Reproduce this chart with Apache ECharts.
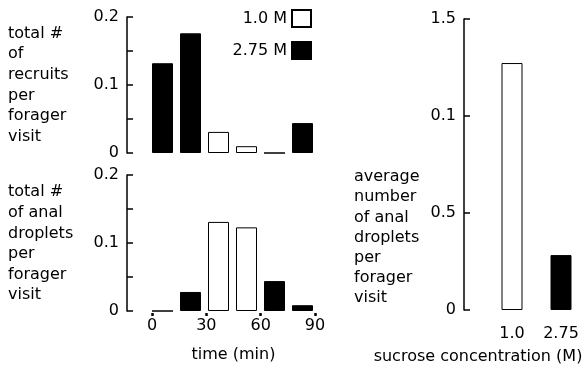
<!DOCTYPE html>
<html>
<head>
<meta charset="utf-8">
<script src="https://cdn.jsdelivr.net/npm/echarts@6/dist/echarts.min.js"></script>
<style>
  html, body { margin: 0; padding: 0; background: #fff; }
  #chart { width: 587px; height: 370px; }
</style>
</head>
<body>
<div id="chart"></div>
<script>
// time bins (15 min each), split by sucrose concentration
var bins = ['0-15', '15-30', '30-45', '45-60', '60-75', '75-90'];
var recruitsLow = [null, null, 0.031, 0.010, 0, null];
var recruitsHigh = [0.132, 0.176, null, null, null, 0.044];
var dropletsLow = [0, null, 0.131, 0.123, null, null];
var dropletsHigh = [null, 0.028, null, null, 0.044, 0.0085];

var timeTicks = [0, 30, 60, 90];
var concentrations = ['1.0', '2.75'];
var avgDroplets = [1.273, 0.283];
var avgColors = ['#fff', '#000'];
var rightTickValues = [0, 0.5, 1.0, 1.5];
var rightTickLabels = ['0', '0.5', '0.1', '1.5'];

(function () {
    var font = 'DejaVu Sans';
    var fs = 16;
    var lowStyle = { color: '#fff', borderColor: '#000', borderWidth: 1 };
    var highStyle = { color: '#000', borderColor: '#000', borderWidth: 1 };

    function leftY(gridIndex) {
        return {
            type: 'value', gridIndex: gridIndex, min: 0, max: 0.2, interval: 0.1,
            offset: 21.5,
            axisLine: { show: true, lineStyle: { color: '#000', width: 1.5 } },
            axisTick: { show: true, inside: true, length: 6, lineStyle: { color: '#000', width: 1.5 } },
            minorTick: { show: true, splitNumber: 2, length: 6, lineStyle: { color: '#000', width: 1.5 } },
            splitLine: { show: false },
            axisLabel: { color: '#000', fontFamily: font, fontSize: fs, margin: 8,
                formatter: function (v) { return v === 0 ? '0' : v.toFixed(1); } }
        };
    }

    function binAxis(gridIndex) {
        return {
            type: 'category', gridIndex: gridIndex, data: bins,
            axisLine: { show: false }, axisTick: { show: false }, axisLabel: { show: false }
        };
    }

    var option = {
        animation: false,
        textStyle: { fontFamily: font, color: '#000' },
        legend: {
            orient: 'vertical', right: 275, top: 9, padding: 0,
            align: 'right', icon: 'rect', itemWidth: 19, itemHeight: 17, itemGap: 13,
            textStyle: { fontFamily: font, fontSize: fs, color: '#000' },
            data: ['1.0 M', '2.75 M']
        },
        grid: [
            { left: 148.5, width: 168, top: 17, height: 136 },
            { left: 148.5, width: 168, top: 175, height: 136 },
            { left: 152, width: 163, top: 175, height: 138 },
            { left: 487.5, width: 98, top: 19, height: 291 }
        ],
        xAxis: [
            binAxis(0),
            binAxis(1),
            {
                type: 'value', gridIndex: 2, min: 0, max: 90, interval: 30,
                name: 'time (min)', nameLocation: 'middle', nameGap: 34,
                nameTextStyle: { fontFamily: font, fontSize: fs, color: '#000' },
                axisLine: { show: false },
                axisTick: { show: true, length: 3, lineStyle: { color: '#000', width: 2.5 } },
                splitLine: { show: false },
                axisLabel: { color: '#000', fontFamily: font, fontSize: fs, margin: 5,
                    customValues: timeTicks }
            },
            {
                type: 'category', gridIndex: 3, data: concentrations,
                axisLine: { show: false }, axisTick: { show: false },
                axisLabel: { color: '#000', fontFamily: font, fontSize: fs, margin: 16 }
            }
        ],
        yAxis: [
            leftY(0),
            leftY(1),
            { type: 'value', gridIndex: 2, min: 0, max: 1, show: false },
            {
                type: 'value', gridIndex: 3, min: 0, max: 1.5, interval: 0.5,
                offset: 23.5,
                axisLine: { show: true, lineStyle: { color: '#000', width: 1.5 } },
                axisTick: { show: true, inside: true, length: 6, lineStyle: { color: '#000', width: 1.5 } },
                splitLine: { show: false },
                axisLabel: { color: '#000', fontFamily: font, fontSize: fs, margin: 8,
                    formatter: function (v) {
                        var i = rightTickValues.indexOf(v);
                        return i >= 0 ? rightTickLabels[i] : '';
                    } }
            }
        ],
        series: [
            { name: '1.0 M', type: 'bar', xAxisIndex: 0, yAxisIndex: 0, data: recruitsLow,
              barWidth: 21, barGap: '-100%', itemStyle: lowStyle },
            { name: '2.75 M', type: 'bar', xAxisIndex: 0, yAxisIndex: 0, data: recruitsHigh,
              barWidth: 21, barGap: '-100%', itemStyle: highStyle },
            { name: '1.0 M', type: 'bar', xAxisIndex: 1, yAxisIndex: 1, data: dropletsLow,
              barWidth: 21, barGap: '-100%', itemStyle: lowStyle },
            { name: '2.75 M', type: 'bar', xAxisIndex: 1, yAxisIndex: 1, data: dropletsHigh,
              barWidth: 21, barGap: '-100%', itemStyle: highStyle },
            { name: 'average', type: 'bar', xAxisIndex: 3, yAxisIndex: 3, barWidth: 21,
              data: avgDroplets.map(function (v, i) {
                  return { value: v, itemStyle: { color: avgColors[i], borderColor: '#000', borderWidth: 1 } };
              }) }
        ],
        graphic: [
            { type: 'text', left: 8, top: 23,
              style: { text: 'total #\nof\nrecruits\nper\nforager\nvisit', font: fs + 'px "' + font + '"', lineHeight: 20.7, fill: '#000' } },
            { type: 'text', left: 8, top: 182,
              style: { text: 'total #\nof anal\ndroplets\nper\nforager\nvisit', font: fs + 'px "' + font + '"', lineHeight: 20.6, fill: '#000' } },
            { type: 'text', left: 354, top: 167,
              style: { text: 'average\nnumber\nof anal\ndroplets\nper\nforager\nvisit', font: fs + 'px "' + font + '"', lineHeight: 20.2, fill: '#000' } },
            { type: 'text', x: 478, y: 357,
              style: { text: 'sucrose concentration (M)', font: fs + 'px "' + font + '"', fill: '#000',
                       textAlign: 'center', textVerticalAlign: 'middle' } }
        ]
    };

    var myChart = echarts.init(document.getElementById('chart'));
    myChart.setOption(option);
})();
</script>
</body>
</html>
